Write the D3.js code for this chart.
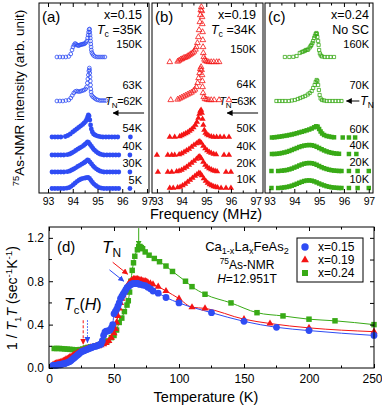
<!DOCTYPE html>
<html>
<head>
<meta charset="utf-8">
<script src="https://cdnjs.cloudflare.com/ajax/libs/d3/7.8.5/d3.min.js"></script>
<style>
  body { margin: 0; background: #fff; overflow: hidden; }
  svg { display: block; font-family: "Liberation Sans", Arial, sans-serif; }
</style>
</head>
<body>
<svg id="fig" width="382" height="406"></svg>
<script>
// ---------- data: spectra, [frequency MHz, intensity] ----------
var labelsA = ["150K", "63K", "54K", "40K", "30K", "5K"];
var offsetsA = [13.6, 9.2, 5.6, 3.8, 2.1, 0.45];
var specA150 = [[93.36,0],[93.48,0],[93.6,0],[93.72,0],[93.84,0.05],[93.92,0.3],[93.97,0.7],[94.01,1.0],[94.05,1.2],[94.09,1.35],[94.13,1.3],[94.17,1.2],[94.21,1.15],[94.25,1.15],[94.29,1.2],[94.33,1.25],[94.37,1.25],[94.41,1.3],[94.45,1.3],[94.49,1.35],[94.53,1.45],[94.57,1.6],[94.6,1.9],[94.62,2.2],[94.64,2.5],[94.66,2.75],[94.68,2.8],[94.69,2.5],[94.7,2.2],[94.71,1.9],[94.72,1.6],[94.73,1.3],[94.74,1.0],[94.75,0.7],[94.77,0.45],[94.8,0.3],[94.84,0.15],[94.9,0.05],[94.98,0],[95.06,0],[95.14,0],[95.22,0],[95.3,0]];
var specA63 = [[93.36,0],[93.48,0],[93.6,0],[93.72,0.05],[93.84,0.1],[93.92,0.3],[93.98,0.55],[94.04,0.8],[94.1,0.95],[94.16,1.0],[94.22,0.95],[94.28,0.95],[94.34,1.0],[94.4,1.05],[94.46,1.1],[94.52,1.2],[94.56,1.4],[94.59,1.8],[94.61,2.2],[94.63,2.6],[94.65,3.0],[94.67,3.3],[94.68,3.1],[94.69,2.8],[94.7,2.4],[94.71,2.0],[94.72,1.6],[94.73,1.2],[94.74,0.9],[94.76,0.6],[94.8,0.45],[94.85,0.35],[94.9,0.25],[94.96,0.15],[95.02,0.1],[95.1,0.05],[95.18,0.05],[95.26,0.05],[95.34,0.05]];
var specA54 = [[93.16,0],[93.28,0],[93.4,0],[93.52,0],[93.7,0.05],[93.8,0.15],[93.9,0.3],[94.0,0.5],[94.08,0.65],[94.16,0.8],[94.24,0.95],[94.32,1.1],[94.4,1.25],[94.46,1.4],[94.52,1.55],[94.56,1.75],[94.6,2.0],[94.63,2.2],[94.66,2.1],[94.69,1.7],[94.72,1.2],[94.75,0.8],[94.79,0.5],[94.84,0.3],[94.9,0.2],[94.98,0.12],[95.06,0.06],[95.14,0.02],[95.22,0],[95.34,0],[95.46,0],[95.58,0],[95.7,0],[95.82,0],[96.33,0]];
var specA40 = [[93.16,0],[93.28,0],[93.4,0],[93.52,0],[93.64,0],[93.78,0.03],[93.88,0.1],[93.96,0.2],[94.04,0.32],[94.12,0.45],[94.2,0.58],[94.28,0.7],[94.36,0.82],[94.44,0.95],[94.5,1.08],[94.56,1.2],[94.6,1.3],[94.64,1.25],[94.7,1.05],[94.76,0.85],[94.82,0.65],[94.88,0.48],[94.95,0.33],[95.02,0.2],[95.1,0.1],[95.18,0.04],[95.26,0],[95.38,0],[95.5,0],[95.62,0],[95.74,0],[95.86,0],[96.31,0]];
var specA30 = [[93.16,0],[93.28,0],[93.4,0],[93.52,0],[93.64,0],[93.78,0.03],[93.88,0.1],[93.96,0.2],[94.04,0.3],[94.12,0.42],[94.2,0.55],[94.28,0.66],[94.36,0.78],[94.44,0.9],[94.5,1.0],[94.56,1.12],[94.6,1.2],[94.64,1.15],[94.7,0.98],[94.76,0.8],[94.82,0.62],[94.88,0.46],[94.95,0.32],[95.02,0.2],[95.1,0.1],[95.18,0.04],[95.26,0],[95.38,0],[95.5,0],[95.62,0],[95.74,0],[95.86,0],[96.31,0]];
var specA5 = [[93.16,0],[93.28,0],[93.4,0],[93.52,0],[93.64,0],[93.76,0.03],[93.86,0.1],[93.94,0.22],[94.02,0.38],[94.1,0.55],[94.18,0.72],[94.26,0.85],[94.34,0.95],[94.42,1.02],[94.5,1.05],[94.56,1.08],[94.62,1.1],[94.68,1.0],[94.74,0.8],[94.8,0.6],[94.86,0.44],[94.93,0.3],[95.0,0.18],[95.08,0.08],[95.16,0.03],[95.26,0],[95.38,0],[95.5,0],[95.62,0],[95.74,0],[95.86,0],[96.31,0]];

var labelsB = ["150K", "64K", "50K", "40K", "20K", "10K"];
var offsetsB = [13.1, 9.3, 5.6, 3.8, 2.1, 0.5];
var specB150 = [[93.52,0],[93.84,0.05],[93.9,0.15],[93.96,0.25],[94.02,0.3],[94.08,0.4],[94.14,0.45],[94.2,0.5],[94.26,0.6],[94.32,0.7],[94.38,0.8],[94.44,0.9],[94.5,1.05],[94.56,1.25],[94.6,1.5],[94.64,1.9],[94.68,2.5],[94.71,3.2],[94.74,4.0],[94.76,4.7],[94.78,5.2],[94.8,5.5],[94.82,5.1],[94.83,4.5],[94.84,3.8],[94.85,3.0],[94.86,2.2],[94.87,1.5],[94.88,0.9],[94.9,0.5],[94.93,0.25],[94.97,0.1],[95.03,0.05],[95.1,0],[95.2,0],[95.3,0],[95.42,0],[95.52,0]];
var specB64 = [[93.56,0],[93.84,0.05],[93.92,0.15],[94.0,0.25],[94.08,0.35],[94.16,0.45],[94.24,0.55],[94.32,0.65],[94.4,0.75],[94.48,0.9],[94.54,1.05],[94.6,1.3],[94.65,1.7],[94.69,2.2],[94.73,2.7],[94.76,3.1],[94.79,3.3],[94.81,3.0],[94.83,2.5],[94.84,1.9],[94.85,1.3],[94.87,0.7],[94.9,0.3],[94.95,0.1],[95.02,0.05],[95.1,0],[95.2,0],[95.32,0],[95.52,0],[95.92,0]];
var specB50 = [[93.52,0],[93.72,0],[93.92,0.05],[94.0,0.15],[94.08,0.25],[94.16,0.35],[94.24,0.45],[94.32,0.6],[94.4,0.75],[94.48,0.95],[94.56,1.2],[94.62,1.5],[94.68,1.9],[94.72,2.3],[94.76,2.6],[94.79,2.7],[94.82,2.4],[94.85,1.8],[94.88,1.2],[94.92,0.7],[94.97,0.4],[95.03,0.25],[95.1,0.15],[95.2,0.05],[95.3,0],[95.42,0],[95.56,0],[95.72,0],[95.92,0]];
var specB40 = [[93.0,0],[93.44,0],[93.6,0],[93.72,0],[93.9,0.05],[94.0,0.15],[94.1,0.3],[94.2,0.45],[94.3,0.6],[94.4,0.8],[94.5,1.0],[94.6,1.15],[94.68,1.3],[94.74,1.35],[94.8,1.2],[94.88,0.9],[94.96,0.65],[95.04,0.45],[95.12,0.3],[95.2,0.2],[95.3,0.1],[95.4,0.05],[95.72,0],[95.92,0]];
var specB20 = [[93.04,0],[93.44,0],[93.6,0],[93.8,0.05],[93.9,0.1],[94.0,0.2],[94.1,0.35],[94.2,0.5],[94.3,0.7],[94.4,0.9],[94.5,1.1],[94.6,1.3],[94.68,1.5],[94.74,1.55],[94.8,1.35],[94.88,1.0],[94.96,0.7],[95.04,0.5],[95.12,0.35],[95.2,0.25],[95.28,0.15],[95.36,0.1],[95.44,0.05],[95.8,0],[96.0,0]];
var specB10 = [[93.52,0],[93.66,0],[93.84,0.05],[93.94,0.1],[94.04,0.25],[94.14,0.4],[94.24,0.6],[94.34,0.8],[94.44,1.0],[94.54,1.2],[94.62,1.35],[94.7,1.5],[94.76,1.45],[94.82,1.25],[94.9,0.95],[94.98,0.7],[95.06,0.5],[95.14,0.35],[95.22,0.25],[95.3,0.15],[95.38,0.1],[95.46,0.05],[95.6,0],[95.8,0],[96.0,0]];

var labelsC = ["160K", "70K", "60K", "40K", "20K", "10K"];
var offsetsC = [13.6, 9.2, 5.55, 3.9, 2.2, 0.5];
var specC160 = [[93.62,0],[93.8,0],[93.96,0.02],[94.09,0.1],[94.22,0.4],[94.3,0.5],[94.36,0.55],[94.42,0.6],[94.46,0.7],[94.52,0.72],[94.56,0.75],[94.62,0.95],[94.66,1.1],[94.69,1.2],[94.73,1.4],[94.76,1.6],[94.8,1.9],[94.83,2.1],[94.86,2.3],[94.89,2.4],[94.91,2.3],[94.93,2.0],[94.96,1.6],[94.98,1.2],[95.0,0.7],[95.03,0.35],[95.07,0.15],[95.12,0.05],[95.22,0],[95.34,0],[95.46,0],[95.6,0]];
var specC70 = [[93.28,0],[93.4,0],[93.52,0],[93.64,0],[93.78,0],[93.9,0.05],[94.02,0.1],[94.14,0.2],[94.24,0.3],[94.34,0.4],[94.44,0.5],[94.54,0.65],[94.62,0.8],[94.7,1.0],[94.76,1.3],[94.82,1.6],[94.86,1.9],[94.9,2.1],[94.93,2.0],[94.96,1.6],[94.99,1.1],[95.02,0.6],[95.06,0.25],[95.12,0.1],[95.2,0.05],[95.3,0],[95.42,0],[95.54,0],[95.66,0],[95.78,0],[95.9,0]];
var specC60 = [[93.1,0],[93.2,0.02],[93.3,0.05],[93.4,0.08],[93.5,0.12],[93.6,0.16],[93.7,0.2],[93.8,0.25],[93.9,0.3],[94.0,0.36],[94.1,0.43],[94.2,0.5],[94.3,0.57],[94.4,0.64],[94.5,0.72],[94.6,0.8],[94.7,0.9],[94.8,1.02],[94.88,1.12],[94.94,1.08],[95.0,0.85],[95.06,0.6],[95.12,0.4],[95.2,0.25],[95.3,0.15],[95.4,0.1],[95.5,0.05],[95.6,0.02],[95.95,0],[96.2,0],[96.45,0]];
var specC40 = [[93.1,0],[93.2,0],[93.3,0.02],[93.4,0.05],[93.5,0.1],[93.6,0.15],[93.7,0.22],[93.8,0.3],[93.9,0.4],[94.0,0.5],[94.1,0.6],[94.2,0.7],[94.3,0.78],[94.4,0.84],[94.5,0.88],[94.6,0.9],[94.7,0.88],[94.8,0.82],[94.9,0.72],[95.0,0.6],[95.1,0.48],[95.2,0.36],[95.3,0.26],[95.4,0.18],[95.5,0.12],[95.6,0.07],[95.7,0.04],[95.8,0.02],[96.2,0],[96.5,0]];
var specC20 = [[93.08,0],[93.35,0],[93.5,0.03],[93.6,0.06],[93.7,0.1],[93.8,0.16],[93.9,0.24],[94.0,0.34],[94.1,0.44],[94.2,0.55],[94.3,0.65],[94.4,0.73],[94.5,0.78],[94.6,0.8],[94.7,0.78],[94.8,0.72],[94.9,0.62],[95.0,0.5],[95.1,0.38],[95.2,0.28],[95.3,0.2],[95.4,0.13],[95.5,0.08],[95.6,0.04],[95.7,0.02],[95.8,0],[95.9,0],[96.2,0],[96.55,0],[97.0,0]];
var specC10 = [[93.08,0],[93.35,0],[93.5,0.03],[93.6,0.06],[93.7,0.1],[93.8,0.15],[93.9,0.23],[94.0,0.32],[94.1,0.42],[94.2,0.52],[94.3,0.62],[94.4,0.7],[94.5,0.75],[94.6,0.76],[94.7,0.73],[94.8,0.66],[94.9,0.56],[95.0,0.45],[95.1,0.35],[95.2,0.26],[95.3,0.18],[95.4,0.12],[95.5,0.07],[95.6,0.04],[95.7,0.02],[95.8,0],[95.9,0],[96.2,0],[96.55,0],[97.0,0]];

var freqTicks = [93, 94, 95, 96, 97];

// ---------- data: 1/T1T vs temperature, [T (K), value] ----------
var seriesNames = ["x=0.15", "x=0.19", "x=0.24"];
var blueData = [[3,.025],[4,.025],[5,.025],[6,.025],[7,.03],[8,.03],[9,.03],[10,.035],[11,.04],[12,.04],[13,.045],[14,.05],[15,.055],[16,.06],[17,.07],[18,.08],[19,.09],[20,.1],[21,.11],[22,.12],[23,.13],[24,.14],[25,.15],[26,.155],[27,.16],[28,.165],[29,.17],[30,.175],[31,.18],[32,.185],[33,.19],[34,.195],[35,.2],[36,.2],[37,.205],[38,.21],[39,.215],[40,.22],[41,.25],[42,.3],[43,.33],[44,.34],[45,.34],[46,.345],[47,.35],[48,.37],[49,.4],[50,.5],[51,.52],[52,.54],[53,.57],[54,.6],[55,.64],[56,.66],[57,.68],[58,.7],[59,.72],[60,.74],[61,.75],[62,.76],[63,.77],[64,.775],[65,.78],[66,.78],[67,.78],[68,.78],[69,.775],[70,.77],[72,.765],[74,.76],[76,.745],[78,.73],[80,.71],[84,.69],[90,.65],[100,.6],[125,.51],[150,.43],[175,.375],[200,.345],[250,.3]];
var redData = [[3,.03],[4,.035],[5,.04],[6,.045],[7,.05],[8,.05],[9,.055],[10,.06],[11,.065],[12,.07],[13,.08],[14,.085],[15,.09],[16,.1],[17,.105],[18,.11],[19,.12],[20,.125],[21,.13],[22,.14],[23,.145],[24,.15],[25,.155],[26,.16],[27,.165],[28,.17],[29,.175],[30,.18],[32,.19],[34,.195],[36,.2],[38,.2],[40,.21],[42,.22],[44,.23],[46,.25],[48,.28],[50,.32],[51,.36],[52,.42],[53,.48],[54,.55],[55,.6],[56,.64],[57,.67],[58,.7],[59,.73],[60,.75],[61,.77],[62,.79],[63,.8],[64,.81],[65,.82],[66,.82],[67,.82],[68,.82],[69,.815],[70,.81],[71,.81],[72,.8],[73,.8],[74,.8],[75,.795],[76,.79],[78,.78],[80,.77],[84,.75],[90,.71],[100,.64],[110,.56],[120,.55],[150,.45],[170,.41],[200,.37],[250,.335]];
var greenData = [[4,.18],[6,.18],[8,.18],[10,.178],[12,.176],[14,.174],[16,.172],[18,.17],[20,.165],[22,.168],[24,.17],[26,.175],[28,.185],[30,.19],[32,.195],[35,.2],[38,.21],[40,.22],[42,.23],[45,.25],[48,.28],[50,.3],[52,.35],[54,.42],[56,.46],[58,.52],[60,.58],[61,.62],[62,.7],[63,.8],[64,.9],[65,.97],[66,1.03],[68,1.09],[69,1.12],[70,1.12],[71,1.11],[72,1.1],[74,1.07],[77,1.04],[81,1.01],[85,.98],[90,.94],[95,.89],[105,.8],[110,.75],[120,.68],[140,.6],[160,.51],[180,.48],[200,.45],[220,.435],[250,.40]];
var tempTicks = [0, 50, 100, 150, 200, 250];
var rateTicks = [0, 0.4, 0.8, 1.2];

var blue = "#2f4cf4", red = "#f41414", green = "#38aa16";
var svg = d3.select("#fig");
svg.append("rect").attr("width", 382).attr("height", 406).attr("fill", "#fff");

var defs = svg.append("defs");
[["k", "#000"], ["r", red], ["b", blue], ["g", green]].forEach(function(c) {
  defs.append("marker").attr("id", "ah-" + c[0])
    .attr("viewBox", "0 0 10 10").attr("refX", 9).attr("refY", 5)
    .attr("markerWidth", 6).attr("markerHeight", 6).attr("orient", "auto")
    .append("path").attr("d", "M0,0L10,5L0,10z").attr("fill", c[1]);
});

// text with italic / sub / sup parts
function rich(t, parts, fs) {
  var cur = 0;
  parts.forEach(function(p) {
    var k = p[1] || "";
    var shift = k === "sub" ? 0.25 * fs : (k === "sup" ? -0.38 * fs : 0);
    var ts = t.append("tspan").text(p[0]);
    if (shift !== cur) ts.attr("dy", shift - cur);
    cur = shift;
    if (k === "i") ts.attr("font-style", "italic");
    if (k === "sub" || k === "sup") ts.attr("font-size", fs * 0.7);
  });
  return t;
}

// ---------- top panels ----------
var panels = [
  { tag: "(a)", comp: "x=0.15", tc: "35K", tn: "62K", labels: labelsA, offsets: offsetsA,
    spectra: [specA150, specA63, specA54, specA40, specA30, specA5],
    color: blue, shape: d3.symbolCircle, domain: [92.636, 97.081], left: 39, right: 149 },
  { tag: "(b)", comp: "x=0.19", tc: "34K", tn: "63K", labels: labelsB, offsets: offsetsB,
    spectra: [specB150, specB64, specB50, specB40, specB20, specB10],
    color: red, shape: d3.symbolTriangle, domain: [92.8, 97.3], left: 152, right: 263 },
  { tag: "(c)", comp: "x=0.24", tc: null, tn: null, labels: labelsC, offsets: offsetsC,
    spectra: [specC160, specC70, specC60, specC40, specC20, specC10],
    color: green, shape: d3.symbolSquare, domain: [92.82, 97.17], left: 265, right: 373 }
];
var ySpec = d3.scaleLinear().domain([0, 19]).range([193, 3]);
var labelDy = [-9, -12, -5, -5, -5, -5];
var openSize = { circle: 11, triangle: 14, square: 10 };

panels.forEach(function(p) {
  var x = d3.scaleLinear().domain(p.domain).range([p.left, p.right]);
  var g = svg.append("g");
  var kind = p.shape === d3.symbolCircle ? "circle" : (p.shape === d3.symbolTriangle ? "triangle" : "square");
  var fillSize = kind === "circle" ? 18 : (kind === "triangle" ? 17 : 20);
  var rx = p.right - (p.tag === "(c)" ? 4 : 7);

  p.spectra.forEach(function(s, i) {
    var base = p.offsets[i], open = i < 2;
    g.append("g").selectAll("path").data(s).join("path")
      .attr("d", d3.symbol().type(p.shape).size(open ? openSize[kind] : fillSize))
      .attr("transform", function(d) { return "translate(" + x(d[0]) + "," + ySpec(base + d[1]) + ")"; })
      .attr("fill", open ? "none" : p.color)
      .attr("stroke", open ? p.color : "none")
      .attr("stroke-width", 0.8);
    g.append("text").attr("x", rx)
      .attr("y", ySpec(base) + labelDy[i]).attr("text-anchor", "end")
      .attr("font-size", 11).text(p.labels[i]);
  });

  // frame
  g.append("rect").attr("x", p.left).attr("y", 3).attr("width", p.right - p.left).attr("height", 190)
    .attr("fill", "none").attr("stroke", "#000").attr("stroke-width", 1);
  var ax = d3.axisBottom(x).tickValues(freqTicks).tickSizeInner(-4).tickSizeOuter(0).tickPadding(5)
    .tickFormat(d3.format("d"));
  var gb = g.append("g").attr("transform", "translate(0,193)").call(ax);
  gb.select(".domain").remove();
  gb.selectAll("text").attr("font-family", null).attr("font-size", 10.5).attr("letter-spacing", -0.2);
  var gt = g.append("g").attr("transform", "translate(0,3)")
    .call(d3.axisTop(x).tickValues(freqTicks).tickSizeInner(-4).tickSizeOuter(0).tickFormat(""));
  gt.select(".domain").remove();
  var minor = [93.5, 94.5, 95.5, 96.5];
  [[193, -2.5], [3, 2.5]].forEach(function(e) {
    g.selectAll(null).data(minor).join("line")
      .attr("x1", function(d) { return x(d); }).attr("x2", function(d) { return x(d); })
      .attr("y1", e[0]).attr("y2", e[0] + e[1]).attr("stroke", "#000");
  });

  // headers
  g.append("text").attr("x", p.left + 3).attr("y", 22).attr("font-size", 15).text(p.tag);
  g.append("text").attr("x", rx).attr("y", 19).attr("text-anchor", "end").attr("font-size", 12.5).text(p.comp);
  if (p.tc) {
    rich(g.append("text").attr("x", rx).attr("y", 34).attr("text-anchor", "end").attr("font-size", 12.5),
      [["T", "i"], ["c", "sub"], [" =" + p.tc]], 12.5);
    rich(g.append("text").attr("x", rx).attr("y", 105).attr("text-anchor", "end").attr("font-size", 11)
      .attr("letter-spacing", -0.3), [["T", "i"], ["N", "sub"], ["=" + p.tn]], 11.5);
    g.append("line").attr("x1", x(p.domain[1] - 0.2)).attr("x2", x(p.domain[1] - 1.45))
      .attr("y1", ySpec(8)).attr("y2", ySpec(8)).attr("stroke", "#000").attr("stroke-width", 1)
      .attr("marker-end", "url(#ah-k)");
  } else {
    g.append("text").attr("x", rx).attr("y", 34).attr("text-anchor", "end").attr("font-size", 12.5).text("No SC");
    g.append("line").attr("x1", x(96.62)).attr("x2", x(96.1))
      .attr("y1", ySpec(9.2)).attr("y2", ySpec(9.2)).attr("stroke", "#000").attr("stroke-width", 1)
      .attr("marker-end", "url(#ah-k)");
    rich(g.append("text").attr("x", x(96.66)).attr("y", ySpec(9.2) + 4).attr("font-size", 12),
      [["T", "i"], ["N", "sub"]], 12);
  }
});

rich(svg.append("text").attr("transform", "translate(24,98) rotate(-90)").attr("text-anchor", "middle")
  .attr("font-size", 13.5), [["75", "sup"], ["As-NMR intensity (arb. unit)"]], 13.5);
svg.append("text").attr("x", 206).attr("y", 219).attr("text-anchor", "middle").attr("font-size", 14.5)
  .text("Frequency (MHz)");

// ---------- panel (d) ----------
var xT = d3.scaleLinear().domain([0, 250]).range([49, 374]);
var yR = d3.scaleLinear().domain([0, 1.3]).range([368, 227]);
var gd = svg.append("g");

var series = [
  { name: seriesNames[2], data: greenData, color: green, shape: d3.symbolSquare, size: 30 },
  { name: seriesNames[1], data: redData, color: red, shape: d3.symbolTriangle, size: 22 },
  { name: seriesNames[0], data: blueData, color: blue, shape: d3.symbolCircle, size: 36 }
];
var line = d3.line().x(function(d) { return xT(d[0]); }).y(function(d) { return yR(d[1]); })
  .curve(d3.curveMonotoneX);
series.forEach(function(s) {
  gd.append("path").datum(s.data).attr("d", line).attr("fill", "none")
    .attr("stroke", s.color).attr("stroke-width", 1);
});
series.forEach(function(s) {
  gd.append("g").selectAll("path").data(s.data).join("path")
    .attr("d", d3.symbol().type(s.shape).size(s.size))
    .attr("transform", function(d) { return "translate(" + xT(d[0]) + "," + yR(d[1]) + ")"; })
    .attr("fill", s.color);
});

gd.append("rect").attr("x", 49).attr("y", 227).attr("width", 325).attr("height", 141)
  .attr("fill", "none").attr("stroke", "#000");
var bx = gd.append("g").attr("transform", "translate(0,368)")
  .call(d3.axisBottom(xT).tickValues(tempTicks).tickSizeInner(-4).tickSizeOuter(0).tickPadding(6));
bx.select(".domain").remove();
bx.selectAll("text").attr("font-family", null).attr("font-size", 12)
  .attr("dx", function(d) { return d === 250 ? -2 : 0; });
var tx = gd.append("g").attr("transform", "translate(0,227)")
  .call(d3.axisTop(xT).tickValues(tempTicks).tickSizeInner(-4).tickSizeOuter(0).tickFormat(""));
tx.select(".domain").remove();
var ly = gd.append("g").attr("transform", "translate(49,0)")
  .call(d3.axisLeft(yR).tickValues(rateTicks).tickSizeInner(-4).tickSizeOuter(0).tickPadding(5)
    .tickFormat(d3.format(".1f")));
ly.select(".domain").remove();
ly.selectAll("text").attr("font-family", null).attr("font-size", 12);
var ry = gd.append("g").attr("transform", "translate(374,0)")
  .call(d3.axisRight(yR).tickValues([0.2, 0.4, 0.6, 0.8, 1.0, 1.2]).tickSizeInner(-4).tickSizeOuter(0).tickFormat(""));
ry.select(".domain").remove();
gd.selectAll(null).data([0.2, 0.6, 1.0]).join("line")
  .attr("x1", 49).attr("x2", 52).attr("y1", function(d) { return yR(d); }).attr("y2", function(d) { return yR(d); })
  .attr("stroke", "#000");
[[368, -2.5], [227, 2.5]].forEach(function(e) {
  gd.selectAll(null).data([25, 75, 125, 175, 225]).join("line")
    .attr("x1", function(d) { return xT(d); }).attr("x2", function(d) { return xT(d); })
    .attr("y1", e[0]).attr("y2", e[0] + e[1]).attr("stroke", "#000");
});

// annotations
gd.append("text").attr("x", 57).attr("y", 252).attr("font-size", 15).text("(d)");
rich(gd.append("text").attr("x", 102).attr("y", 253).attr("font-size", 17), [["T", "i"], ["N", "sub"]], 17);
rich(gd.append("text").attr("x", 64).attr("y", 310).attr("font-size", 16), [["T", "i"], ["c", "sub"], ["("], ["H", "i"], [")"]], 16);
gd.append("line").attr("x1", xT(69)).attr("x2", xT(69)).attr("y1", yR(1.29)).attr("y2", yR(1.125))
  .attr("stroke", green).attr("marker-end", "url(#ah-g)");
gd.append("line").attr("x1", xT(49)).attr("x2", xT(60.5)).attr("y1", yR(0.975)).attr("y2", yR(0.865))
  .attr("stroke", red).attr("marker-end", "url(#ah-r)");
gd.append("line").attr("x1", xT(46.5)).attr("x2", xT(57.5)).attr("y1", yR(0.905)).attr("y2", yR(0.8))
  .attr("stroke", blue).attr("marker-end", "url(#ah-b)");
gd.append("line").attr("x1", xT(26.3)).attr("x2", xT(26.3)).attr("y1", yR(0.44)).attr("y2", yR(0.22))
  .attr("stroke", red).attr("stroke-dasharray", "3,2").attr("marker-end", "url(#ah-r)");
gd.append("line").attr("x1", xT(29.6)).attr("x2", xT(29.6)).attr("y1", yR(0.44)).attr("y2", yR(0.235))
  .attr("stroke", blue).attr("stroke-dasharray", "1.5,1.5").attr("marker-end", "url(#ah-b)");

rich(gd.append("text").attr("x", 247).attr("y", 251).attr("text-anchor", "middle").attr("font-size", 13),
  [["Ca"], ["1-x", "sub"], ["La"], ["x", "sub"], ["FeAs"], ["2", "sub"]], 13);
rich(gd.append("text").attr("x", 247).attr("y", 269).attr("text-anchor", "middle").attr("font-size", 12),
  [["75", "sup"], ["As-NMR"]], 12);
rich(gd.append("text").attr("x", 247).attr("y", 283).attr("text-anchor", "middle").attr("font-size", 12),
  [["H", "i"], ["=12.951T"]], 12);

// legend
var lg = gd.append("g");
lg.append("rect").attr("x", 297).attr("y", 238).attr("width", 66).attr("height", 44)
  .attr("fill", "#fff").attr("stroke", "#000").attr("stroke-width", 1);
series.slice().reverse().forEach(function(s, i) {
  var yy = 247 + i * 13;
  lg.append("path").attr("d", d3.symbol().type(s.shape).size(s.size * 1.2))
    .attr("transform", "translate(305," + yy + ")").attr("fill", s.color);
  lg.append("text").attr("x", 318).attr("y", yy + 4).attr("font-size", 12).text(s.name);
});

rich(svg.append("text").attr("transform", "translate(17,298) rotate(-90)").attr("text-anchor", "middle")
  .attr("font-size", 14), [["1 / "], ["T", "i"], ["1", "sub"], ["T", "i"], [" (sec"], ["-1", "sup"], ["K"], ["-1", "sup"], [")"]], 14);
svg.append("text").attr("x", 206).attr("y", 402).attr("text-anchor", "middle").attr("font-size", 14.5)
  .text("Temperature (K)");
</script>
</body>
</html>
